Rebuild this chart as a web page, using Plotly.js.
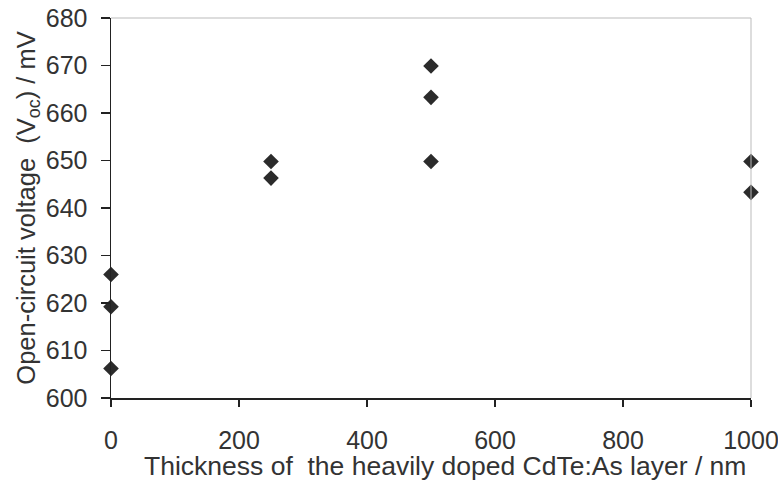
<!DOCTYPE html>
<html>
<head>
<meta charset="utf-8">
<script src="https://cdn.plot.ly/plotly-3.0.1.min.js"></script>
<style>html,body{margin:0;padding:0;background:#fff;}</style>
</head>
<body>
<div id="chart" style="width:778px;height:482px;"></div>
<script>
const thickness = [0, 0, 0, 250, 250, 500, 500, 500, 1000, 1000];
const voc = [626.0, 619.2, 606.2, 649.8, 646.3, 669.9, 663.3, 649.8, 649.8, 643.3];
const xTicks = [0, 200, 400, 600, 800, 1000];
const yTicks = [600, 610, 620, 630, 640, 650, 660, 670, 680];
const xTitle = 'Thickness of  the heavily doped CdTe:As layer / nm';
const yTitle = 'Open-circuit voltage  (V<sub>oc</sub>) / mV';

const trace = {
  x: thickness, y: voc, type: 'scatter', mode: 'markers',
  marker: {symbol: 'diamond', size: 12, color: '#2b2b2b'},
  cliponaxis: false, hoverinfo: 'skip'
};
const fam = 'Liberation Sans, Arial, sans-serif';
const tickFont = {family: fam, size: 25, color: '#333'};
const layout = {
  width: 778, height: 482,
  margin: {l: 111, r: 27, t: 18, b: 84},
  paper_bgcolor: '#fff', plot_bgcolor: '#fff',
  showlegend: false, font: tickFont,
  shapes: [
    {type: 'line', xref: 'paper', yref: 'paper', x0: 0, x1: 1, y0: 1, y1: 1, line: {color: '#bbb', width: 1}},
    {type: 'line', xref: 'paper', yref: 'paper', x0: 1, x1: 1, y0: 0, y1: 1, line: {color: '#bbb', width: 1}}
  ],
  annotations: [
    {text: xTitle, xref: 'paper', yref: 'paper', x: 0.522, y: 0, xanchor: 'center', yanchor: 'middle',
     yshift: -68, showarrow: false, font: {family: fam, size: 26.5, color: '#333'}}
  ],
  xaxis: {
    range: [0, 1000], tickvals: xTicks, ticktext: xTicks.map(String),
    showgrid: false, zeroline: false, showline: true, linecolor: '#222', linewidth: 1.5,
    ticks: 'outside', ticklen: 7, tickcolor: '#222', tickwidth: 1.5,
    ticklabelstandoff: 12, ticklabeloverflow: 'allow', tickfont: tickFont
  },
  yaxis: {
    range: [600, 680], tickvals: yTicks, ticktext: yTicks.map(String),
    showgrid: false, zeroline: false, showline: true, linecolor: '#222', linewidth: 1.5,
    ticks: 'outside', ticklen: 9, tickcolor: '#222', tickwidth: 1.5,
    ticklabelstandoff: 8, tickfont: tickFont,
    title: {text: yTitle, font: {family: fam, size: 25.5, color: '#333'}, standoff: 3}
  }
};
Plotly.newPlot('chart', [trace], layout, {staticPlot: true, displayModeBar: false});
</script>
</body>
</html>
